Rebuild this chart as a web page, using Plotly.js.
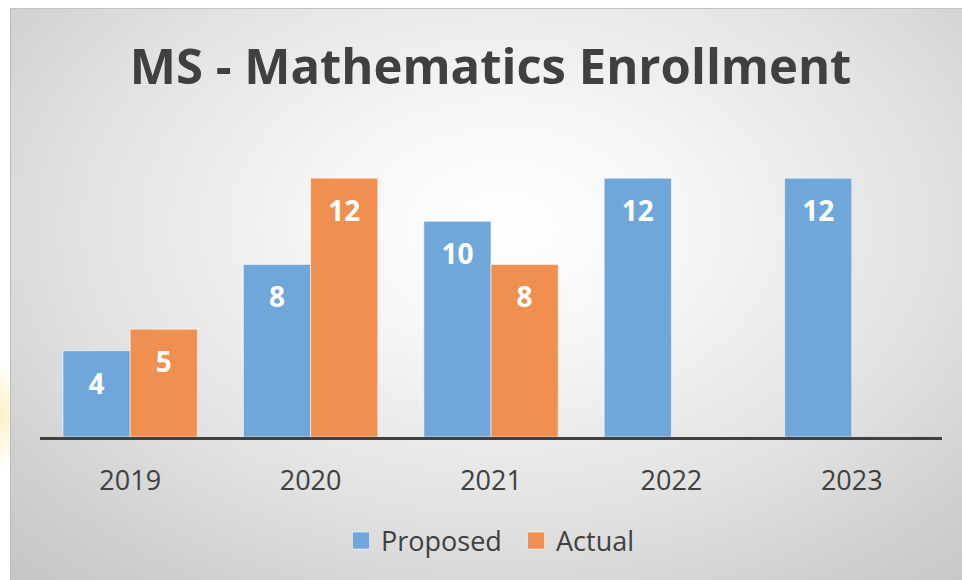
<!DOCTYPE html>
<html>
<head>
<meta charset="utf-8">
<script src="https://cdn.plot.ly/plotly-3.0.1.min.js"></script>
<style>
  html, body { margin: 0; padding: 0; width: 962px; height: 580px; overflow: hidden; background: #ffffff; }
  #halo { position: absolute; left: -30px; top: 360px; width: 60px; height: 110px;
          background: radial-gradient(ellipse at center, rgba(255,230,150,0.55) 0%, rgba(255,240,190,0.0) 70%); }
  #frame { position: absolute; left: 10px; top: 8px; width: 952px; height: 572px;
           border-left: 1px solid #bdbdbd; border-top: 1px solid #c4c4c4; box-sizing: border-box;
           background: radial-gradient(ellipse 75% 85% at 52% 38%, #ffffff 0%, #f6f6f6 25%, #e2e2e2 60%, #cfcfcf 85%, #c6c6c6 100%); }
  #chart { position: absolute; left: 0; top: 0; width: 962px; height: 580px; }
</style>
</head>
<body>
<div id="halo"></div>
<div id="frame"></div>
<div id="chart"></div>
<script>
const categories = ["2019", "2020", "2021", "2022", "2023"];
const proposed = [4, 8, 10, 12, 12];
const actual = [5, 12, 8, null, null];

const labelOf = v => (v === null ? "" : String(v));

const traces = [
  {
    type: "bar", name: "Proposed", x: categories, y: proposed,
    text: proposed.map(labelOf), textposition: "inside", insidetextanchor: "end",
    textfont: { family: "Open Sans", size: 28, color: "#ffffff", weight: 700 },
    marker: { color: "#6fa7da", line: { color: "rgba(255,255,255,0.55)", width: 1 } },
    hoverinfo: "x+y"
  },
  {
    type: "bar", name: "Actual", x: categories, y: actual,
    text: actual.map(labelOf), textposition: "inside", insidetextanchor: "end",
    textfont: { family: "Open Sans", size: 28, color: "#ffffff", weight: 700 },
    marker: { color: "#ef9050", line: { color: "rgba(255,255,255,0.55)", width: 1 } },
    hoverinfo: "x+y"
  }
];

const layout = {
  width: 962, height: 580,
  paper_bgcolor: "rgba(0,0,0,0)", plot_bgcolor: "rgba(0,0,0,0)",
  margin: { l: 40, r: 20, t: 135, b: 143 },
  barmode: "group", bargap: 0.255, bargroupgap: 0,
  title: {
    text: "<b>MS - Mathematics Enrollment</b>",
    font: { family: "Open Sans", size: 49, color: "#404040" },
    xref: "container", x: 0.51, xanchor: "center",
    yref: "container", y: 0.885, yanchor: "middle"
  },
  xaxis: {
    type: "category", showgrid: false, zeroline: false,
    showline: true, linecolor: "#404040", linewidth: 3,
    ticks: "", tickfont: { family: "Open Sans", size: 27, color: "#404040" },
    ticklabelstandoff: 18
  },
  yaxis: {
    range: [0, 14], visible: false, showgrid: false, zeroline: false
  },
  showlegend: true,
  legend: {
    orientation: "h", x: 0.5364, xanchor: "center", xref: "container",
    y: 1 - 541 / 580, yref: "container", yanchor: "middle",
    font: { family: "Open Sans", size: 27, color: "#404040" },
    bgcolor: "rgba(0,0,0,0)", itemwidth: 30, traceorder: "normal",
    entrywidth: 130
  },
  font: { family: "Open Sans" },
  uniformtext: { mode: false }
};

Plotly.newPlot("chart", traces, layout, { displayModeBar: false, staticPlot: true }).then(gd => {
  // enlarge legend swatches to match the reference's square keys
  gd.querySelectorAll(".legend .legendpoints path").forEach(p => p.setAttribute("d", "M8.5,8.5H-8.5V-8.5H8.5Z"));
  // nudge bar value labels a little lower inside the bar top, as in the reference
  gd.querySelectorAll(".bars .bartext").forEach(t => {
    const cur = t.getAttribute("transform") || "";
    t.setAttribute("transform", "translate(0,10) " + cur);
  });
});
</script>
</body>
</html>
